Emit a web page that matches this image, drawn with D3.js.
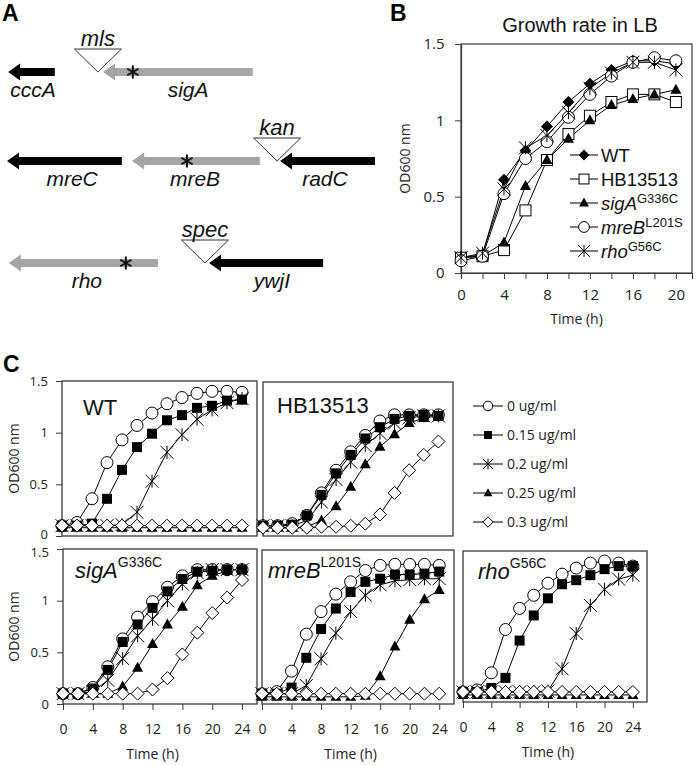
<!DOCTYPE html>
<html><head><meta charset="utf-8">
<script src="https://cdn.jsdelivr.net/npm/d3@7"></script>
<style>body{margin:0;background:#fff}svg{display:block}</style>
</head><body>
<svg id="fig" width="700" height="765"></svg>
<script>
// ---------------- DATA ----------------
// Panel A gene map (positions in map units 0..100)
const genesA = [
  {name:"cccA", row:0, tip:0.3,  tail:13.0, kind:"black", label:7.1},
  {name:"sigA", row:0, tip:26.1, tail:66.8, kind:"gray",  label:49.2},
  {name:"mreC", row:1, tip:0.0,  tail:31.2, kind:"black", label:17.7},
  {name:"mreB", row:1, tip:34.0, tail:68.7, kind:"gray",  label:51.1},
  {name:"radC", row:1, tip:74.2, tail:100,  kind:"black", label:86.4},
  {name:"rho",  row:2, tip:0.5,  tail:41.0, kind:"gray",  label:21.7},
  {name:"ywjI", row:2, tip:54.9, tail:85.9, kind:"black", label:72.0}
];
const insertsA = [
  {name:"mls",  row:0, pos:24.7},
  {name:"kan",  row:1, pos:73.4},
  {name:"spec", row:2, pos:53.8}
];
const mutationsA = [
  {row:0, pos:34.2}, {row:1, pos:48.9}, {row:2, pos:32.3}
];

// Panel B
const timeB = [0,2,4,6,8,10,12,14,16,18,20];
const strainsB = ["WT","HB13513","sigA","mreB","rho"];
const supB = ["","","G336C","L201S","G56C"];
const wtB    = [0.10,0.12,0.61,0.80,0.96,1.12,1.24,1.33,1.39,1.39,1.37];
const hbB    = [0.10,0.11,0.15,0.41,0.74,0.91,1.03,1.12,1.17,1.17,1.12];
const sigAB  = [0.10,0.11,0.20,0.57,0.74,0.88,1.00,1.10,1.14,1.17,1.20];
const mreBB  = [0.08,0.11,0.52,0.75,0.86,1.02,1.17,1.29,1.38,1.41,1.39];
const rhoB   = [0.10,0.13,0.55,0.82,0.90,1.05,1.21,1.31,1.38,1.38,1.33];
const xTicksB = [0,4,8,12,16,20];
const yTicks = [0,0.5,1,1.5];

// Panel C
const timeC = [0,2,4,6,8,10,12,14,16,18,20,22,24];
const concC = ["0 ug/ml","0.15 ug/ml","0.2 ug/ml","0.25 ug/ml","0.3 ug/ml"];
const xTicksC = [0,4,8,12,16,20,24];
const wtC = [
  [0.10,0.13,0.36,0.71,0.93,1.07,1.19,1.28,1.34,1.38,1.40,1.40,1.39],
  [0.10,0.10,0.12,0.36,0.64,0.86,0.99,1.12,1.17,1.24,1.26,1.31,1.32],
  [0.10,0.10,0.10,0.10,0.11,0.23,0.53,0.81,0.98,1.13,1.22,1.29,1.33],
  [0.08,0.08,0.08,0.08,0.08,0.08,0.08,0.08,0.08,0.08,0.08,0.08,0.08],
  [0.10,0.10,0.10,0.10,0.10,0.10,0.10,0.10,0.10,0.10,0.10,0.10,0.10]
];
const hbC = [
  [0.10,0.10,0.12,0.20,0.42,0.64,0.82,0.98,1.12,1.18,1.18,1.18,1.18],
  [0.10,0.10,0.11,0.20,0.40,0.61,0.79,0.95,1.06,1.14,1.17,1.18,1.17],
  [0.10,0.10,0.10,0.15,0.33,0.55,0.72,0.88,1.00,1.10,1.15,1.17,1.17],
  [0.08,0.08,0.08,0.09,0.15,0.29,0.48,0.70,0.87,0.99,1.10,1.15,1.17],
  [0.08,0.08,0.08,0.08,0.09,0.09,0.10,0.12,0.21,0.42,0.64,0.79,0.92]
];
const sigAC = [
  [0.10,0.10,0.16,0.36,0.63,0.84,0.99,1.13,1.24,1.30,1.30,1.30,1.30],
  [0.10,0.10,0.15,0.33,0.60,0.77,0.93,1.09,1.21,1.28,1.29,1.30,1.30],
  [0.10,0.10,0.12,0.23,0.44,0.66,0.82,1.00,1.16,1.27,1.30,1.30,1.30],
  [0.10,0.10,0.10,0.10,0.17,0.35,0.58,0.77,0.94,1.15,1.24,1.29,1.31],
  [0.10,0.10,0.10,0.10,0.10,0.10,0.14,0.25,0.48,0.69,0.88,1.03,1.20]
];
const mreBC = [
  [0.10,0.12,0.32,0.68,0.90,1.07,1.19,1.30,1.35,1.36,1.36,1.36,1.35],
  [0.10,0.10,0.16,0.45,0.73,0.93,1.09,1.19,1.22,1.26,1.26,1.27,1.29],
  [0.10,0.10,0.10,0.18,0.44,0.69,0.90,1.06,1.16,1.20,1.21,1.22,1.22],
  [0.07,0.07,0.07,0.07,0.07,0.07,0.07,0.08,0.27,0.56,0.82,1.02,1.11],
  [0.10,0.10,0.10,0.10,0.10,0.10,0.10,0.10,0.10,0.10,0.10,0.10,0.10]
];
const rhoC = [
  [0.10,0.12,0.29,0.72,0.93,1.06,1.18,1.27,1.33,1.38,1.40,1.38,1.35],
  [0.10,0.10,0.14,0.24,0.61,0.86,1.03,1.17,1.21,1.26,1.32,1.35,1.35],
  [0.10,0.10,0.10,0.10,0.10,0.10,0.11,0.33,0.68,0.96,1.12,1.22,1.26],
  [0.07,0.07,0.07,0.07,0.07,0.07,0.07,0.07,0.07,0.07,0.07,0.07,0.07],
  [0.10,0.10,0.10,0.10,0.10,0.10,0.10,0.10,0.10,0.10,0.10,0.10,0.10]
];

// ---------------- DRAWING ----------------
const svg = d3.select("#fig");
svg.append("rect").attr("width",700).attr("height",765).attr("fill","#fff");
const ARIAL = "'Liberation Sans', Arial, sans-serif";
const TICKF = "'Open Sans', 'Noto Sans', sans-serif";
const FRAME = "#3a3a3a";

function marker(g, type, x, y, s) {
  s = s || 1;
  const k = g.append("g").attr("transform", `translate(${x},${y})`);
  if (type === "circle") {
    k.append("circle").attr("r", 6*s).attr("fill","#fff").attr("stroke","#000").attr("stroke-width",1);
  } else if (type === "square") {
    k.append("rect").attr("x",-5*s).attr("y",-5*s).attr("width",10*s).attr("height",10*s).attr("fill","#000");
  } else if (type === "osquare") {
    k.append("rect").attr("x",-5.5*s).attr("y",-5.5*s).attr("width",11*s).attr("height",11*s).attr("fill","#fff").attr("stroke","#000");
  } else if (type === "triangle") {
    const h = 10*s, w = 11*s;
    k.append("path").attr("d",`M0,${-h*0.6}L${w/2},${h*0.4}L${-w/2},${h*0.4}Z`).attr("fill","#000");
  } else if (type === "diamond") {
    const r = 6.5*s;
    k.append("path").attr("d",`M0,${-r}L${r},0L0,${r}L${-r},0Z`).attr("fill","#fff").attr("stroke","#000");
  } else if (type === "fdiamond") {
    const r = 6*s;
    k.append("path").attr("d",`M0,${-r}L${r},0L0,${r}L${-r},0Z`).attr("fill","#000");
  } else if (type === "star") {
    const r = 6.5*s;
    k.append("path").attr("d",`M${-r},${-r}L${r},${r}M${-r},${r}L${r},${-r}M0,${-r}L0,${r}`)
      .attr("stroke","#000").attr("stroke-width",1).attr("fill","none");
  }
}

// ---------- Panel A ----------
const gA = svg.append("g");
const xA = d3.scaleLinear().domain([0,100]).range([7,375]);
const yA = d3.scaleOrdinal().domain([0,1,2]).range([72,161,263]);
gA.append("text").attr("x",2).attr("y",21).attr("font-family",ARIAL).attr("font-weight","bold").attr("font-size",23).text("A");
const shaft = 4, headH = 8.5, headL = 12;
genesA.forEach(d => {
  const t = xA(d.tip), e = xA(d.tail), y = yA(d.row);
  const hb = t + headL;
  gA.append("path")
    .attr("d", `M${t},${y}L${hb},${y-headH}L${hb},${y-shaft}L${e},${y-shaft}L${e},${y+shaft}L${hb},${y+shaft}L${hb},${y+headH}Z`)
    .attr("fill", d.kind === "black" ? "#000" : "#a5a5a5");
  gA.append("text").attr("x", xA(d.label)).attr("y", y+25).attr("text-anchor","middle")
    .attr("font-family",ARIAL).attr("font-style","italic").attr("font-size",21).attr("fill","#111").text(d.name);
});
insertsA.forEach(d => {
  const cx = xA(d.pos), y = yA(d.row);
  gA.append("path").attr("d", `M${cx-23.5},${y-23}L${cx+23.5},${y-23}L${cx},${y}Z`)
    .attr("fill","#fff").attr("stroke","#333").attr("stroke-width",1);
  gA.append("text").attr("x",cx).attr("y",y-26).attr("text-anchor","middle")
    .attr("font-family",ARIAL).attr("font-style","italic").attr("font-size",22).attr("fill","#111").text(d.name);
});
mutationsA.forEach(d => {
  const cx = xA(d.pos), y = yA(d.row), r = 6.5;
  const p = d3.path();
  for (let i = 0; i < 3; i++) {
    const a = Math.PI/2 + i*Math.PI/3;
    p.moveTo(cx + r*Math.cos(a), y + r*Math.sin(a));
    p.lineTo(cx - r*Math.cos(a), y - r*Math.sin(a));
  }
  gA.append("path").attr("d", p.toString()).attr("stroke","#111").attr("stroke-width",2).attr("fill","none");
});

// ---------- Panel B ----------
const gB = svg.append("g");
const xB = d3.scaleLinear().domain([0,21.5]).range([461,692]);
const yB = d3.scaleLinear().domain([0,1.5]).range([273,44]);
gB.append("text").attr("x",390).attr("y",21).attr("font-family",ARIAL).attr("font-weight","bold").attr("font-size",23).text("B");
gB.append("text").attr("x",580).attr("y",32).attr("text-anchor","middle").attr("font-family",ARIAL).attr("font-size",20).attr("fill","#111").text("Growth rate in LB");
gB.append("rect").attr("x",xB(0)).attr("y",yB(1.5)).attr("width",xB(21.5)-xB(0)).attr("height",yB(0)-yB(1.5))
  .attr("fill","none").attr("stroke",FRAME).attr("stroke-width",1.2);
const axBx = gB.append("g").attr("transform",`translate(0,${yB(0)})`)
  .call(d3.axisBottom(xB).tickValues(d3.range(0,21,2)).tickSize(6).tickFormat(d => xTicksB.includes(d) ? d : ""));
const axBy = gB.append("g").attr("transform",`translate(${xB(0)},0)`)
  .call(d3.axisLeft(yB).tickValues(yTicks).tickSize(6).tickFormat(d3.format("")));
[axBx, axBy].forEach(a => {
  a.select(".domain").attr("stroke",FRAME).attr("stroke-width",1.2);
  a.selectAll(".tick line").attr("stroke",FRAME);
  a.selectAll("text").attr("font-family",TICKF).attr("font-size",15).attr("fill","#222");
});
axBx.selectAll("text").attr("dy","1.2em");
axBy.selectAll("text").attr("dx","-0.5em");
gB.append("text").attr("transform",`translate(410,${(yB(0)+yB(1.5))/2}) rotate(-90)`).attr("text-anchor","middle")
  .attr("font-family",TICKF).attr("font-size",14).attr("fill","#222").text("OD600  nm");
gB.append("text").attr("x",(xB(0)+xB(21.5))/2).attr("y",324).attr("text-anchor","middle")
  .attr("font-family",TICKF).attr("font-size",14).attr("fill","#222").text("Time  (h)");

const seriesB = [wtB, hbB, sigAB, mreBB, rhoB];
const markB = ["fdiamond","osquare","triangle","circle","star"];
const lineB = d3.line().x((d,i) => xB(timeB[i])).y(d => yB(d));
seriesB.forEach((s, k) => {
  gB.append("path").attr("d", lineB(s)).attr("fill","none").attr("stroke","#000").attr("stroke-width",1);
});
seriesB.forEach((s, k) => {
  s.forEach((v, i) => marker(gB, markB[k], xB(timeB[i]), yB(v), 1));
});
// legend B
const legY = d3.scalePoint().domain(strainsB).range([155,251]);
strainsB.forEach((name, k) => {
  const y = legY(name);
  gB.append("line").attr("x1",570).attr("x2",598).attr("y1",y).attr("y2",y).attr("stroke","#000");
  marker(gB, markB[k], 584, y, 0.9);
  const t = gB.append("text").attr("x",601).attr("y",y+7).attr("font-family",ARIAL).attr("font-size",18.5).attr("fill","#111");
  if (supB[k]) {
    t.append("tspan").attr("font-style","italic").text(name);
    t.append("tspan").attr("dy",-7).attr("font-size",13).text(supB[k]);
  } else t.text(name);
});

// ---------- Panel C ----------
const gC = svg.append("g");
gC.append("text").attr("x",3).attr("y",372).attr("font-family",ARIAL).attr("font-weight","bold").attr("font-size",23).text("C");
const markC = ["circle","square","star","triangle","diamond"];
const panelsC = [
  {name:"WT", sup:"", italic:false, data:wtC,   box:[62,257,381,536], lab:[21,34], yLab:true,  xLab:false, nudge:[-2,0,0,0]},
  {name:"HB13513", sup:"", italic:false, data:hbC, box:[263,453,382,536], lab:[14,31], yLab:false, xLab:false},
  {name:"sigA", sup:"G336C", italic:true, data:sigAC, box:[63,257,549,704], lab:[12,29], yLab:true, xLab:true, nudge:[0,0,0,3]},
  {name:"mreB", sup:"L201S", italic:true, data:mreBC, box:[262,454,550,704], lab:[6,28], yLab:false, xLab:true},
  {name:"rho", sup:"G56C", italic:true, data:rhoC, box:[463,647,551,702], lab:[15,28], yLab:false, xLab:true}
];
panelsC.forEach(p => {
  const [l, r, t, b] = p.box;
  const g = gC.append("g");
  const x = d3.scaleLinear().domain([0,26]).range([l, r]);
  const y = d3.scaleLinear().domain([0,1.5]).range([b, t]);
  g.append("rect").attr("x",l).attr("y",t).attr("width",r-l).attr("height",b-t)
    .attr("fill","none").attr("stroke",FRAME).attr("stroke-width",1.3);
  if (p.yLab) {
    const ay = g.append("g").attr("transform",`translate(${l},0)`)
      .call(d3.axisLeft(y).tickValues(yTicks).tickSize(6).tickFormat(d3.format("")));
    ay.select(".domain").remove();
    ay.selectAll(".tick line").attr("stroke",FRAME);
    ay.selectAll("text").attr("font-family",TICKF).attr("font-size",13).attr("fill","#222").attr("dx","-0.4em")
      .attr("transform",(d,i) => `translate(0,${p.nudge[i]})`);
    g.append("text").attr("transform",`translate(19,${(t+b)/2}) rotate(-90)`).attr("text-anchor","middle")
      .attr("font-family",TICKF).attr("font-size",14).attr("fill","#222").text("OD600  nm");
  }
  if (p.xLab) {
    const ax = g.append("g").attr("transform",`translate(0,${b})`)
      .call(d3.axisBottom(x).tickValues(xTicksC).tickSize(6).tickFormat(d3.format("")));
    ax.select(".domain").remove();
    ax.selectAll(".tick line").attr("stroke",FRAME);
    ax.selectAll("text").attr("font-family",TICKF).attr("font-size",14).attr("fill","#222").attr("dy","1.5em");
    g.append("text").attr("x",(x(0)+x(24))/2).attr("y",b+55).attr("text-anchor","middle")
      .attr("font-family",TICKF).attr("font-size",14).attr("fill","#222").text("Time  (h)");
  }
  const line = d3.line().x((d,i) => x(timeC[i])).y(d => y(d));
  p.data.forEach((s, k) => {
    g.append("path").attr("d", line(s)).attr("fill","none").attr("stroke","#000").attr("stroke-width",1);
  });
  p.data.forEach((s, k) => {
    s.forEach((v, i) => marker(g, markC[k], x(timeC[i]), y(v), 1));
  });
  const lab = g.append("text").attr("x",l+p.lab[0]).attr("y",t+p.lab[1]).attr("font-family",ARIAL).attr("font-size",22).attr("fill","#111");
  if (p.italic) {
    lab.append("tspan").attr("font-style","italic").text(p.name);
    lab.append("tspan").attr("dy",-11).attr("font-size",14).text(p.sup);
  } else lab.text(p.name);
});
// legend C
const legCY = d3.scalePoint().domain(concC).range([406,522]);
concC.forEach((c, k) => {
  const y = legCY(c);
  gC.append("line").attr("x1",473).attr("x2",503).attr("y1",y).attr("y2",y).attr("stroke","#000");
  marker(gC, markC[k], 488, y, 0.8);
  gC.append("text").attr("x",507).attr("y",y+5).attr("font-family",TICKF).attr("font-size",14).attr("fill","#222").text(c);
});
</script>
</body></html>
